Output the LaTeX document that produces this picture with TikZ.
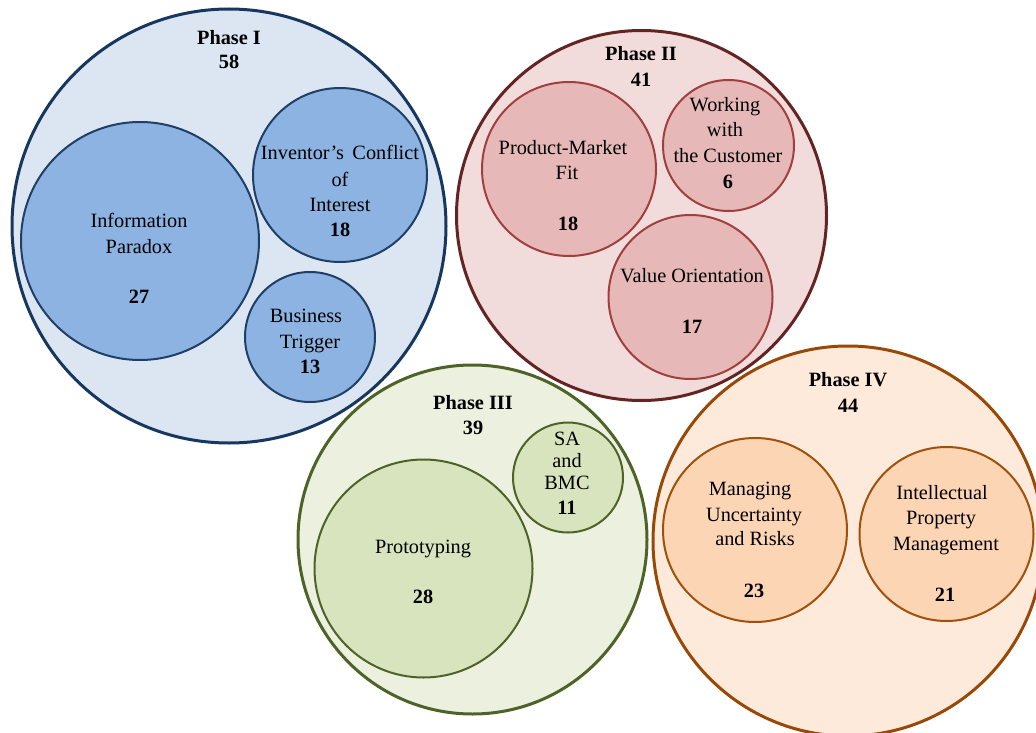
\documentclass[tikz,border=0pt]{standalone}
\usepackage{fontspec}
\setmainfont{Liberation Serif}

% phase palettes: outer fill, outer line, inner fill, inner line
\definecolor{aFill}{HTML}{DCE6F2}\definecolor{aLine}{HTML}{17375E}
\definecolor{aIn}{HTML}{8DB3E2}\definecolor{aInLine}{HTML}{1F3F66}
\definecolor{bFill}{HTML}{F2DCDB}\definecolor{bLine}{HTML}{632523}
\definecolor{bIn}{HTML}{E6B9B8}\definecolor{bInLine}{HTML}{A0403E}
\definecolor{cFill}{HTML}{EBF1DE}\definecolor{cLine}{HTML}{4F6228}
\definecolor{cIn}{HTML}{D7E4BD}\definecolor{cInLine}{HTML}{4F6228}
\definecolor{dFill}{HTML}{FDEADA}\definecolor{dLine}{HTML}{984807}
\definecolor{dIn}{HTML}{FCD5B5}\definecolor{dInLine}{HTML}{A0500A}

\begin{document}
\begin{tikzpicture}[x=1pt,y=-1pt,
  outerc/.style={circle, inner sep=0pt, line width=3pt},
  innerc/.style={circle, inner sep=0pt, line width=2pt},
  txt/.style={inner sep=0pt, text height=13.5pt, text depth=1.5pt,
    font=\fontsize{20.3}{25}\selectfont},
  num/.style={txt, font=\fontsize{20.3}{25}\selectfont\bfseries}]
\useasboundingbox (0,0) rectangle (1036,733);
\clip (0,0) rectangle (1036,733);

% Phase I
\node[outerc, draw=aLine, fill=aFill, minimum size=434pt] (p1) at (229,226) {};
\node[innerc, draw=aInLine, fill=aIn, minimum size=238pt] (p1a) at (140,241) {};
\node[innerc, draw=aInLine, fill=aIn, minimum size=174pt] (p1b) at (340,175) {};
\node[innerc, draw=aInLine, fill=aIn, minimum size=130pt] (p1c) at (310,337) {};
\node[num] (p1t) at (229,39) {Phase I};
\node[num] (p1n) at (229,63) {58};
\node[txt] (p1a1) at (139,221) {Information};
\node[txt] (p1a2) at (139,247) {Paradox};
\node[num] (p1an) at (139,297) {27};
\node[txt] (p1b1) at (340,154) {Inventor’s\, Conflict};
\node[txt] (p1b2) at (340,180) {of};
\node[txt] (p1b3) at (340,205) {Interest};
\node[num] (p1bn) at (340,230) {18};
\node[txt] (p1c1) at (306,316) {Business};
\node[txt] (p1c2) at (310,342) {Trigger};
\node[num] (p1cn) at (310,367) {13};

% Phase II
\node[outerc, draw=bLine, fill=bFill, minimum size=370pt] (p2) at (641.5,215.5) {};
\node[innerc, draw=bInLine, fill=bIn, minimum size=174pt] (p2a) at (569,169) {};
\node[innerc, draw=bInLine, fill=bIn, minimum size=131pt] (p2b) at (728.5,145.5) {};
\node[innerc, draw=bInLine, fill=bIn, minimum size=164pt] (p2c) at (690.5,297) {};
\node[num] (p2t) at (641,55) {Phase II};
\node[num] (p2n) at (641,81) {41};
\node[txt] (p2a1) at (563,148) {Product-Market};
\node[txt] (p2a2) at (567,173) {Fit};
\node[num] (p2an) at (568,224) {18};
\node[txt] (p2b1) at (725,106) {Working};
\node[txt] (p2b2) at (725,130) {with};
\node[txt] (p2b3) at (728,157) {the Customer};
\node[num] (p2bn) at (728,182) {6};
\node[txt] (p2c1) at (692,276) {Value Orientation};
\node[num] (p2cn) at (692,327) {17};

% Phase III
\node[outerc, draw=cLine, fill=cFill, minimum size=349pt] (p3) at (472.5,539.5) {};
\node[innerc, draw=cInLine, fill=cIn, minimum size=218pt] (p3a) at (423.5,568.5) {};
\node[innerc, draw=cInLine, fill=cIn, minimum size=110pt] (p3b) at (568,477.5) {};
\node[num] (p3t) at (473,403) {Phase III};
\node[num] (p3n) at (473,428) {39};
\node[txt] (p3b1) at (567,439) {SA};
\node[txt] (p3b2) at (567,461) {and};
\node[txt] (p3b3) at (567,483) {BMC};
\node[num] (p3bn) at (567,508) {11};
\node[txt] (p3a1) at (423,547) {Prototyping};
\node[num] (p3an) at (423,597) {28};

% Phase IV
\node[outerc, draw=dLine, fill=dFill, minimum size=390pt] (p4) at (848,541) {};
\node[innerc, draw=dInLine, fill=dIn, minimum size=184pt] (p4a) at (755,530) {};
\node[innerc, draw=dInLine, fill=dIn, minimum size=174pt] (p4b) at (946.5,534) {};
\node[num] (p4t) at (848,380) {Phase IV};
\node[num] (p4n) at (848,406) {44};
\node[txt] (p4a1) at (750,489) {Managing};
\node[txt] (p4a2) at (754,515) {Uncertainty};
\node[txt] (p4a3) at (755,539) {and Risks};
\node[num] (p4an) at (754,591) {23};
\node[txt] (p4b1) at (942,493) {Intellectual};
\node[txt] (p4b2) at (941,518) {Property};
\node[txt] (p4b3) at (946,544) {Management};
\node[num] (p4bn) at (945,595) {21};
\end{tikzpicture}
\end{document}
